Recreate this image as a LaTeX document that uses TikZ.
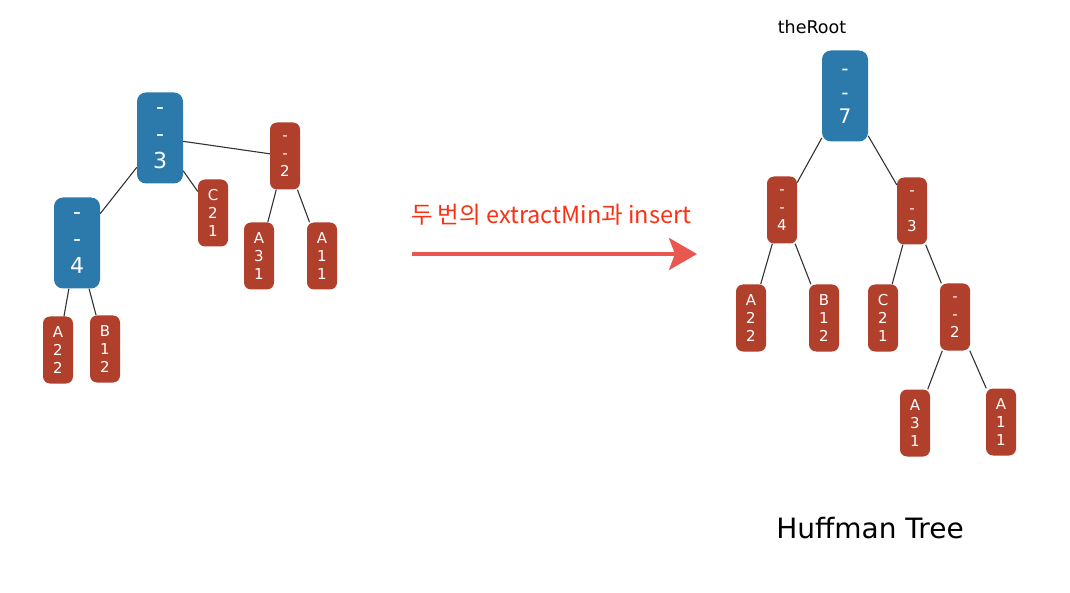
\documentclass[tikz,border=0pt]{standalone}
\usepackage{fontspec}
\setmainfont{DejaVu Sans}
\newfontfamily\kr{Noto Sans CJK KR}
\usetikzlibrary{arrows.meta}
\definecolor{nodeblue}{RGB}{44,122,172}
\definecolor{nodered}{RGB}{176,64,44}
\definecolor{arrowred}{RGB}{232,88,78}
\definecolor{labelred}{RGB}{250,50,20}
\begin{document}
\begin{tikzpicture}[x=1pt,y=-1pt,
  redn/.style={fill=nodered, rounded corners=7pt, text=white, minimum width=30pt, minimum height=67pt, inner sep=0pt, align=center, font=\fontsize{15}{18}\selectfont},
  bluen/.style={fill=nodeblue, rounded corners=9pt, text=white, minimum width=46pt, minimum height=91pt, inner sep=0pt, align=center, font=\fontsize{22}{27}\selectfont},
  blueroot/.style={bluen, font=\fontsize{20}{24}\selectfont},
  edge/.style={draw=black!80, line width=1.1pt}]
\useasboundingbox (0,0) rectangle (1070,593);
% left forest
\node[bluen] (l3) at (160,138) {-\\-\\3};
\node[bluen] (l4) at (77,243) {-\\-\\4};
\node[redn] (l2) at (285,156) {-\\-\\2};
\node[redn] (lc) at (213,213) {C\\2\\1};
\node[redn] (la3) at (259,256) {A\\3\\1};
\node[redn] (la1) at (322,256) {A\\1\\1};
\node[redn] (la2) at (58,350) {A\\2\\2};
\node[redn] (lb) at (105,349) {B\\1\\2};
\draw[edge] (l3) -- (l2);
\draw[edge] (l3) -- (l4);
\draw[edge] (l3) -- (lc);
\draw[edge] (l2) -- (la3);
\draw[edge] (l2) -- (la1);
\draw[edge] (l4) -- (la2);
\draw[edge] (l4) -- (lb);
% arrow and label
\node[text=labelred, font=\kr\fontsize{23.5}{27}\selectfont] (lab) at (551,215) {두 번의 extractMin과 insert};
\coordinate (as) at (412,254);
\coordinate (ae) at (697,254);
\draw[draw=arrowred, line width=4pt, -{Stealth[length=28pt,width=32pt,inset=6pt]}] (as) -- (ae);
% right tree
\node[font=\fontsize{17.5}{20}\selectfont] (root) at (812,27) {theRoot};
\node[blueroot] (r7) at (845,96) {-\\-\\7};
\node[redn] (r4) at (782,210) {-\\-\\4};
\node[redn] (r3) at (912,211) {-\\-\\3};
\node[redn] (ra2) at (751,318) {A\\2\\2};
\node[redn] (rb) at (824,318) {B\\1\\2};
\node[redn] (rc) at (883,318) {C\\2\\1};
\node[redn] (r2) at (955,317) {-\\-\\2};
\node[redn] (ra3) at (915,423) {A\\3\\1};
\node[redn] (ra1) at (1001,422) {A\\1\\1};
\draw[edge] (r7) -- (r4);
\draw[edge] (r7) -- (r3);
\draw[edge] (r4) -- (ra2);
\draw[edge] (r4) -- (rb);
\draw[edge] (r3) -- (rc);
\draw[edge] (r3) -- (r2);
\draw[edge] (r2) -- (ra3);
\draw[edge] (r2) -- (ra1);
\node[font=\fontsize{28}{32}\selectfont] (title) at (870,528) {Huffman Tree};
\end{tikzpicture}
\end{document}
